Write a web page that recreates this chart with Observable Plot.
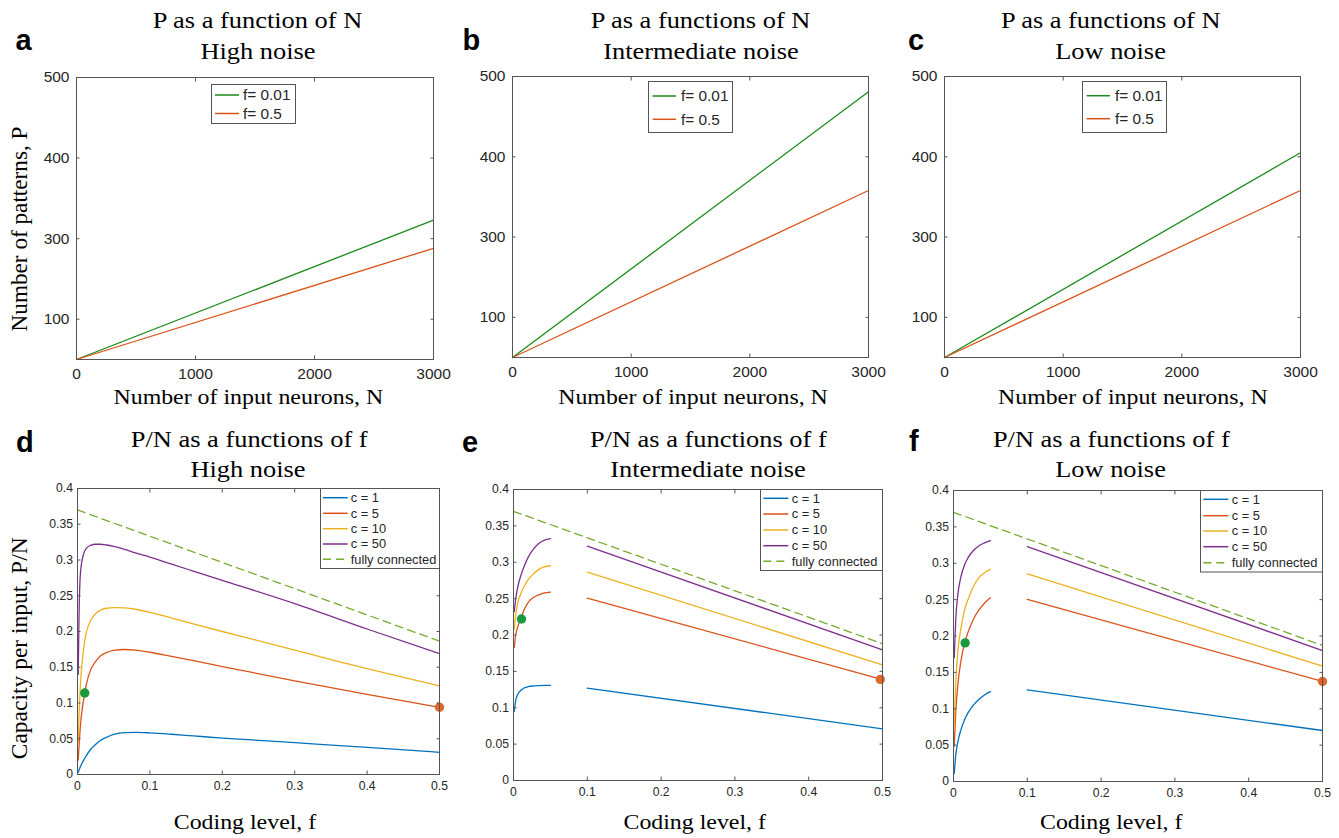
<!DOCTYPE html>
<html><head><meta charset="utf-8">
<script src="https://cdn.jsdelivr.net/npm/d3@7"></script>
<script src="https://cdn.jsdelivr.net/npm/@observablehq/plot@0.6"></script>
<style>
html,body{margin:0;padding:0;background:#fff;}
#page{position:relative;width:1339px;height:838px;overflow:hidden;background:#fff;}
.panel{position:absolute;}
.panel svg{max-width:none;}
#overlay{position:absolute;left:0;top:0;pointer-events:none;}
</style></head><body><div id="page"></div>
<script>
// ================= DATA =================
// Top row: P as a function of N
const nInputs = [0, 3000];
const pHigh_f001 = [150, 323];
const pHigh_f05  = [150, 288];
const pInt_f001  = [150, 481];
const pInt_f05   = [150, 358];
const pLow_f001  = [150, 405];
const pLow_f05   = [150, 358];
const topLegendLabels = ["f= 0.01", "f= 0.5"];

// Bottom row: P/N as a function of f
const fHighNoise = [0.001, 0.002, 0.004, 0.008, 0.012, 0.018, 0.025, 0.032, 0.04, 0.05, 0.065, 0.08, 0.1, 0.13, 0.16, 0.2, 0.3, 0.4, 0.5];
const capHigh_c1  = [0.003, 0.006, 0.011, 0.019, 0.026, 0.035, 0.042, 0.048, 0.052, 0.056, 0.0586, 0.0589, 0.0582, 0.0563, 0.054, 0.051, 0.0445, 0.038, 0.031];
const capHigh_c5  = [0.02, 0.037, 0.068, 0.102, 0.125, 0.146, 0.158, 0.166, 0.1705, 0.1735, 0.1748, 0.1739, 0.171, 0.1652, 0.1592, 0.151, 0.131, 0.112, 0.094];
const capHigh_c10 = [0.045, 0.08, 0.125, 0.172, 0.198, 0.215, 0.225, 0.230, 0.2325, 0.2335, 0.2329, 0.2311, 0.2268, 0.2188, 0.2107, 0.200, 0.174, 0.148, 0.124];
const capHigh_c50 = [0.14, 0.215, 0.281, 0.307, 0.316, 0.3205, 0.322, 0.322, 0.321, 0.319, 0.315, 0.310, 0.304, 0.2942, 0.2845, 0.2716, 0.239, 0.2035, 0.169];

const fSmall = [0.001, 0.003, 0.006, 0.01, 0.015, 0.02, 0.027, 0.035, 0.042, 0.05];
const fLarge = [0.1, 0.5];
const capInt_c1_small  = [0.095, 0.110, 0.119, 0.124, 0.1275, 0.129, 0.130, 0.1305, 0.1307, 0.1308];
const capInt_c1_large  = [0.127, 0.071];
const capInt_c5_small  = [0.183, 0.200, 0.212, 0.223, 0.236, 0.245, 0.2515, 0.2555, 0.2578, 0.259];
const capInt_c5_large  = [0.2506, 0.1388];
const capInt_c10_small = [0.208, 0.228, 0.245, 0.257, 0.268, 0.276, 0.284, 0.2905, 0.2935, 0.2952];
const capInt_c10_large = [0.2864, 0.159];
const capInt_c50_small = [0.232, 0.250, 0.267, 0.282, 0.296, 0.307, 0.318, 0.3265, 0.3305, 0.3325];
const capInt_c50_large = [0.3221, 0.1796];

const capLow_c1_small  = [0.011, 0.036, 0.055, 0.071, 0.085, 0.095, 0.105, 0.1135, 0.119, 0.1235];
const capLow_c1_large  = [0.126, 0.0701];
const capLow_c5_small  = [0.048, 0.095, 0.134, 0.165, 0.1905, 0.206, 0.223, 0.2365, 0.245, 0.2525];
const capLow_c5_large  = [0.2502, 0.1375];
const capLow_c10_small = [0.078, 0.135, 0.18, 0.21, 0.236, 0.251, 0.268, 0.281, 0.287, 0.2915];
const capLow_c10_large = [0.2855, 0.1585];
const capLow_c50_small = [0.17, 0.222, 0.258, 0.281, 0.298, 0.308, 0.3175, 0.3245, 0.328, 0.331];
const capLow_c50_large = [0.323, 0.18];

const fFull = [0, 0.5];
const fullHigh = [0.37, 0.1865];
const fullInt  = [0.37, 0.188];
const fullLow  = [0.37, 0.187];

const dotF_high = [0.01, 0.5],     dotCap_high = [0.114, 0.094];
const dotF_int  = [0.0108, 0.497], dotCap_int  = [0.222, 0.139];
const dotF_low  = [0.0158, 0.5],  dotCap_low  = [0.1906, 0.1375];

const bottomLegendLabels = ["c = 1", "c = 5", "c = 10", "c = 50", "fully connected"];

// Ticks
const nTicks = [0, 1000, 2000, 3000];
const nTickLabels = ["0", "1000", "2000", "3000"];
const pTicks = [200, 300, 400, 500];
const pTickLabels = ["100", "300", "400", "500"];
const fTicks = [0, 0.1, 0.2, 0.3, 0.4, 0.5];
const fTickLabels = ["0", "0.1", "0.2", "0.3", "0.4", "0.5"];
const capTicks = [0, 0.05, 0.1, 0.15, 0.2, 0.25, 0.3, 0.35, 0.4];
const capTickLabels = ["0", "0.05", "0.1", "0.15", "0.2", "0.25", "0.3", "0.35", "0.4"];

// ================= STYLE / LAYOUT =================
const topColors = ["#1a8a1a", "#D95319"];
const cColors = ["#0072BD", "#D95319", "#EDB120", "#7E2F8E"];
const fullColor = "#77AC30";
const dotColors = ["#1a9a3c", "#de672b"];
const textColor = "#262626";
const axisColor = "#555555";
const LW = 1.3;
const TK = 3.5;
const ML = 62, MR = 18, MT = 8, MB = 30;
const frames = {
  a: [76, 433, 77, 359], b: [512, 868, 76, 357], c: [944, 1300, 76, 357],
  d: [77, 439, 488, 774], e: [513, 882, 489, 780], f: [953, 1322, 490, 781]
};

const zip = (xs, ys) => xs.map((x, i) => ({x, y: ys[i]}));
const page = document.getElementById("page");

function makePanel(key, cfg, marks) {
  const [x0, x1, y0, y1] = frames[key];
  const W = x1 - x0 + ML + MR, H = y1 - y0 + MT + MB;
  const xl = new Map(cfg.xTicks.map((t, i) => [t, cfg.xLabels[i]]));
  const yl = new Map(cfg.yTicks.map((t, i) => [t, cfg.yLabels[i]]));
  const blank = () => "";
  const tickOpts = {tickSize: TK, tickFormat: blank, label: null, stroke: axisColor, strokeWidth: 1};
  const svg = Plot.plot({
    width: W, height: H,
    marginLeft: ML, marginRight: MR, marginTop: MT, marginBottom: MB,
    x: {domain: cfg.xDomain}, y: {domain: cfg.yDomain},
    style: {fontFamily: "'Liberation Sans', Arial, sans-serif", background: "transparent", overflow: "visible", color: textColor},
    marks: [
      ...marks,
      Plot.frame({stroke: axisColor, strokeWidth: 1}),
      Plot.axisX(cfg.xTicks, {anchor: "bottom", tickSize: 0, tickPadding: cfg.xPad, tickFormat: d => xl.get(d), fontSize: cfg.fs, label: null, color: textColor}),
      Plot.axisY(cfg.yTicks, {anchor: "left", tickSize: 0, tickPadding: cfg.yPad, tickFormat: d => yl.get(d), fontSize: cfg.fs, label: null, color: textColor}),
      // inward ticks on all four sides (outward ticks shifted back inside the frame)
      Plot.axisX(cfg.xTicks, {anchor: "bottom", dy: -TK, ...tickOpts}),
      Plot.axisX(cfg.xTicks, {anchor: "top", dy: TK, ...tickOpts}),
      Plot.axisY(cfg.yTicks, {anchor: "left", dx: TK, ...tickOpts}),
      Plot.axisY(cfg.yTicks, {anchor: "right", dx: -TK, ...tickOpts})
    ]
  });
  const div = document.createElement("div");
  div.className = "panel";
  div.style.left = (x0 - ML) + "px";
  div.style.top = (y0 - MT) + "px";
  div.style.width = W + "px";
  div.style.height = H + "px";
  div.appendChild(svg);
  page.appendChild(div);
}

const topCfg = {xDomain: [0, 3000], yDomain: [150, 500], xTicks: nTicks, xLabels: nTickLabels, yTicks: pTicks, yLabels: pTickLabels, xPad: 8.5, yPad: 7, fs: 15.5};
const botCfg = {xDomain: [0, 0.5], yDomain: [0, 0.4], xTicks: fTicks, xLabels: fTickLabels, yTicks: capTicks, yLabels: capTickLabels, xPad: 6.5, yPad: 4.5, fs: 12.2};

function topMarks(g, o) {
  return [
    Plot.line(zip(nInputs, g), {x: "x", y: "y", stroke: topColors[0], strokeWidth: LW}),
    Plot.line(zip(nInputs, o), {x: "x", y: "y", stroke: topColors[1], strokeWidth: LW})
  ];
}
makePanel("a", topCfg, topMarks(pHigh_f001, pHigh_f05));
makePanel("b", topCfg, topMarks(pInt_f001, pInt_f05));
makePanel("c", topCfg, topMarks(pLow_f001, pLow_f05));

function dotsMarks(fs, vs) {
  return [Plot.dot(zip(fs, vs), {x: "x", y: "y", r: 4.7, fill: (d, i) => dotColors[i], stroke: "none"})];
}
function fullMark(vals) {
  return Plot.line(zip(fFull, vals), {x: "x", y: "y", stroke: fullColor, strokeWidth: LW, strokeDasharray: "8,5"});
}

// panel d (continuous curves)
makePanel("d", botCfg, [
  fullMark(fullHigh),
  ...[capHigh_c1, capHigh_c5, capHigh_c10, capHigh_c50].map((v, i) =>
    Plot.line(zip(fHighNoise, v), {x: "x", y: "y", stroke: cColors[i], strokeWidth: LW, curve: "monotone-x"})),
  ...dotsMarks(dotF_high, dotCap_high)
]);

function brokenMarks(smalls, larges) {
  const out = [];
  smalls.forEach((v, i) => out.push(Plot.line(zip(fSmall, v), {x: "x", y: "y", stroke: cColors[i], strokeWidth: LW, curve: "monotone-x"})));
  larges.forEach((v, i) => out.push(Plot.line(zip(fLarge, v), {x: "x", y: "y", stroke: cColors[i], strokeWidth: LW})));
  return out;
}
makePanel("e", botCfg, [
  fullMark(fullInt),
  ...brokenMarks([capInt_c1_small, capInt_c5_small, capInt_c10_small, capInt_c50_small],
                 [capInt_c1_large, capInt_c5_large, capInt_c10_large, capInt_c50_large]),
  ...dotsMarks(dotF_int, dotCap_int)
]);
makePanel("f", botCfg, [
  fullMark(fullLow),
  ...brokenMarks([capLow_c1_small, capLow_c5_small, capLow_c10_small, capLow_c50_small],
                 [capLow_c1_large, capLow_c5_large, capLow_c10_large, capLow_c50_large]),
  ...dotsMarks(dotF_low, dotCap_low)
]);

// ================= TEXT OVERLAY =================
const ov = d3.create("svg").attr("id", "overlay").attr("width", 1339).attr("height", 838);
const SERIF = "'Liberation Serif', 'Times New Roman', serif";
const SANS = "'Liberation Sans', Arial, sans-serif";
function txt(x, y, s, o = {}) {
  return ov.append("text")
    .attr("transform", `translate(${x},${y})` + (o.rot ? ` rotate(${o.rot})` : "") + ` scale(${o.sx || 1},1)`)
    .attr("text-anchor", o.anchor || "start")
    .attr("font-family", o.family || SERIF)
    .attr("font-size", o.size || 24)
    .attr("font-weight", o.weight || "normal")
    .attr("fill", o.fill || "#000")
    .text(s);
}
const titleO = {anchor: "middle", size: 24, sx: 1.1};
// titles
txt(257.5, 28.3, "P as a function of N", titleO); txt(258, 59.3, "High noise", titleO);
txt(700.5, 28.3, "P as a functions of N", titleO); txt(701, 59.3, "Intermediate noise", titleO);
txt(1110.7, 28.3, "P as a functions of N", titleO); txt(1110.5, 59.3, "Low noise", titleO);
txt(249.2, 446.7, "P/N as a functions of f", titleO); txt(248, 476.7, "High noise", titleO);
txt(708.3, 446.7, "P/N as a functions of f", titleO); txt(708, 476.7, "Intermediate noise", titleO);
txt(1111.3, 446.7, "P/N as a functions of f", titleO); txt(1110.5, 476.7, "Low noise", titleO);
// panel letters
const letO = {family: SANS, weight: "bold", size: 29};
txt(15.5, 50, "a", letO); txt(462.5, 50, "b", letO); txt(908, 50, "c", letO);
txt(16, 451.7, "d", letO); txt(462, 451.7, "e", letO); txt(909, 450.7, "f", letO);
// axis labels
const xlO = {anchor: "middle", size: 21.7, sx: 1.1};
txt(248.3, 404, "Number of input neurons, N", xlO);
txt(693, 403.5, "Number of input neurons, N", xlO);
txt(1132.8, 403.5, "Number of input neurons, N", xlO);
txt(245, 829, "Coding level, f", xlO);
txt(694.7, 829, "Coding level, f", xlO);
txt(1111.2, 829, "Coding level, f", xlO);
txt(27, 229, "Number of patterns, P", {anchor: "middle", size: 23.2, rot: -90});
txt(27, 648.3, "Capacity per input, P/N", {anchor: "middle", size: 23.5, rot: -90});

// legends
function legend(box, sx, textX, rowsY, labels, colors, dashes, size, sxText, dyText) {
  ov.append("rect").attr("x", box[0] + 0.5).attr("y", box[1] + 0.5)
    .attr("width", box[2] - box[0]).attr("height", box[3] - box[1])
    .attr("fill", "#fff").attr("stroke", axisColor).attr("stroke-width", 1);
  labels.forEach((lab, i) => {
    ov.append("line").attr("x1", sx[0]).attr("x2", sx[1]).attr("y1", rowsY[i]).attr("y2", rowsY[i])
      .attr("stroke", colors[i]).attr("stroke-width", LW + 0.2)
      .attr("stroke-dasharray", dashes[i] || null);
    txt(textX, rowsY[i] + dyText, lab, {family: SANS, size, sx: sxText, fill: textColor});
  });
}
legend([211, 84, 295, 123], [215, 239], 243, [95, 113.5], topLegendLabels, topColors, [], 14, 1.1, 5);
legend([648, 81, 732, 132], [652.7, 676], 681, [96, 119.3], topLegendLabels, topColors, [], 14, 1.1, 5.2);
legend([1082, 81, 1166, 132], [1086.7, 1110], 1115, [95.7, 118.7], topLegendLabels, topColors, [], 14, 1.1, 5.2);
const botColors = [...cColors, fullColor];
const botDash = [null, null, null, null, "8,5"];
legend([320, 488, 439, 568], [323, 347.7], 350.7, [497.7, 513.3, 528.7, 544, 559.3], bottomLegendLabels, botColors, botDash, 11.9, 1.08, 4.2);
legend([760, 489, 882, 570], [763.3, 788.3], 791.7, [498.3, 514, 530, 545.7, 561.3], bottomLegendLabels, botColors, botDash, 11.9, 1.08, 4.2);
legend([1200, 490, 1322, 571.5], [1203.3, 1228.3], 1231.7, [499.3, 515.7, 531, 546.7, 562.7], bottomLegendLabels, botColors, botDash, 11.9, 1.08, 4.2);

page.appendChild(ov.node());
</script></body></html>
